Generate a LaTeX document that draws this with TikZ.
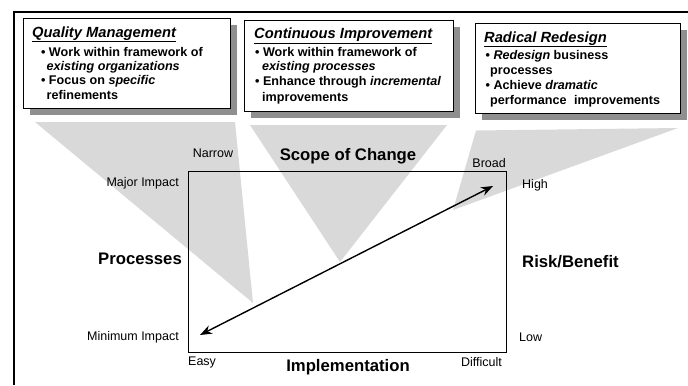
\documentclass[tikz,border=0pt]{standalone}
\usepackage{fontspec}
\setmainfont{Liberation Sans}
\usetikzlibrary{arrows.meta}
\definecolor{trigray}{HTML}{D9D9D9}
\definecolor{shadowgray}{HTML}{8F8F8F}
\tikzset{
 lbl/.style={inner sep=0pt, font=\fontsize{12.5bp}{15bp}\selectfont},
 big/.style={inner sep=0pt, font=\fontsize{16.7bp}{20bp}\selectfont\bfseries},
 ttl/.style={inner sep=0pt, anchor=base west, font=\fontsize{14.7bp}{17bp}\selectfont\bfseries\itshape},
 body/.style={inner sep=0pt, anchor=base west, font=\fontsize{12.6bp}{15bp}\selectfont\bfseries},
 shadowbox/.style={fill=shadowgray},
 mainbox/.style={fill=white, draw=black, line width=0.8bp},
 tri/.style={fill=trigray},
 frame/.style={line width=2.4bp},
 dblarrow/.style={line width=1.4bp, {Stealth[length=12bp,width=9bp]}-{Stealth[length=12bp,width=9bp]}},
}
\begin{document}
\begin{tikzpicture}[x=1bp,y=-1bp]
\useasboundingbox (0,0) rectangle (688,385);
% frame
\draw[frame] (13.8,385) -- (13.8,12.2) -- (688,12.2);
% triangles
\fill[tri] (35,122) -- (235,122) -- (253,303) -- cycle;
\fill[tri] (250,125) -- (447,125) -- (340,262) -- cycle;
\fill[tri] (476,130.5) -- (678,128) -- (453,210) -- cycle;
% boxes
\fill[shadowbox] (29.5,24.5) rectangle (236.5,114.5);
\draw[mainbox] (23,18) rectangle (230,108);
\fill[shadowbox] (250.5,26.5) rectangle (460,118);
\draw[mainbox] (244,20) rectangle (453,111);
\fill[shadowbox] (481.5,29.5) rectangle (686.5,120);
\draw[mainbox] (475,23) rectangle (680,113);
% box 1 text
\node[ttl] (q1t) at (32,37) {\underline{Quality Management}};
\node[body] (q1a) at (41,56) {\textbullet\hspace{3.4bp}Work within framework of};
\node[body] (q1b) at (46.5,70) {\textit{existing organizations}};
\node[body] (q1c) at (41,84.5) {\textbullet\hspace{3.4bp}Focus on \textit{specific}};
\node[body] (q1d) at (46.5,99) {refinements};
% box 2 text
\node[ttl] (q2t) at (254,38.5) {\underline{Continuous Improvement}};
\node[body] (q2a) at (255,56) {\textbullet\hspace{3.4bp}Work within framework of};
\node[body] (q2b) at (262,70) {\textit{existing processes}};
\node[body] (q2c) at (255,85.5) {\textbullet\hspace{3.4bp}Enhance through \textit{incremental}};
\node[body] (q2d) at (262,101) {improvements};
% box 3 text
\node[ttl] (q3t) at (484,42) {\underline{Radical Redesign}};
\node[body] (q3a) at (485.5,59) {\textbullet\hspace{3.4bp}\textit{Redesign} business};
\node[body] (q3b) at (490,74) {processes};
\node[body] (q3c) at (485.5,89.5) {\textbullet\hspace{3.4bp}Achieve \textit{dramatic}};
\node[body] (q3d) at (490,104.5) {performance\hspace{4bp} improvements};
% chart
\draw[line width=0.8bp] (188,171) rectangle (506,352);
\coordinate (hi) at (493,186);
\coordinate (lo) at (200,335);
\draw[dblarrow] (lo) -- (hi);
% labels
\node[lbl] (narrow) at (213,153) {Narrow};
\node[lbl, anchor=east] (major) at (179,183) {Major Impact};
\node[big, anchor=east] (proc) at (182,259) {Processes};
\node[lbl, anchor=east] (minimp) at (179,337) {Minimum Impact};
\node[lbl, anchor=west] (easy) at (188,362) {Easy};
\node[big] (impl) at (348,367) {Implementation};
\node[lbl, anchor=east] (diff) at (502,362) {Difficult};
\node[lbl, anchor=west] (low) at (519,337) {Low};
\node[big, anchor=west] (risk) at (522,262) {Risk/Benefit};
\node[lbl, anchor=west] (high) at (522,185) {High};
\node[lbl, anchor=east] (broad) at (506,163) {Broad};
\node[big] (scope) at (348,156) {Scope of Change};
\end{tikzpicture}
\end{document}
